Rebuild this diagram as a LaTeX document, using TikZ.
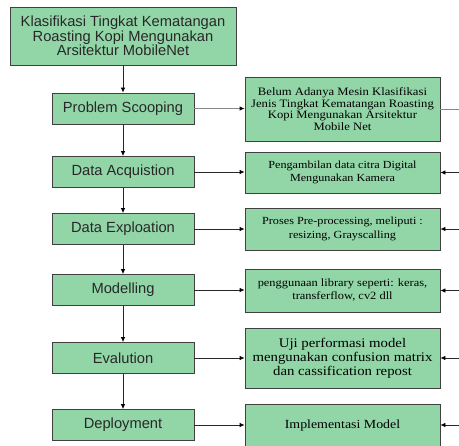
\documentclass[tikz,border=0pt]{standalone}
\usepackage{fontspec}
\setmainfont{Liberation Serif}
\newfontfamily\arialf{Liberation Sans}
\newfontfamily\wideserif[FakeStretch=1.12]{Liberation Serif}
\usetikzlibrary{arrows.meta}
\definecolor{boxgreen}{RGB}{146,214,168}
\definecolor{boxline}{RGB}{64,64,64}
\definecolor{txt}{RGB}{40,40,40}
\definecolor{grayline}{RGB}{135,135,135}
\tikzset{
  gbox/.style={draw=boxline, fill=boxgreen, line width=0.8pt, inner sep=0pt, align=center, text=txt},
  leftbox/.style={gbox, minimum width=142pt, minimum height=31pt, font=\arialf\fontsize{14.7}{15}\selectfont},
  rightbox/.style={gbox, minimum width=195pt, text=black},
  conn/.style={-{Latex[length=5pt,width=4.5pt,color=black]}, line width=0.8pt, draw=txt},
  plainline/.style={line width=0.8pt, draw=grayline}
}
\begin{document}
\begin{tikzpicture}[x=1pt,y=-1pt]
\useasboundingbox (0,0) rectangle (459,446);
\node[gbox, minimum width=226pt, minimum height=58pt, font=\arialf\fontsize{14.7}{14.7}\selectfont] (title) at (123,36) {Klasifikasi Tingkat Kematangan\\Roasting Kopi Mengunakan\\Arsitektur MobileNet};

\node[leftbox] (ps) at (123,108.5) {Problem Scooping};
\node[leftbox] (da) at (123,172) {Data Acquistion};
\node[leftbox] (de) at (123,229) {Data Exploation};
\node[leftbox] (mo) at (123,290) {Modelling};
\node[leftbox] (ev) at (123,358) {Evalution};
\node[leftbox] (dp) at (123,425) {Deployment};

\node[rightbox, minimum height=64pt, font=\wideserif\fontsize{11.3}{11.8}\selectfont] (r1) at (342.5,109) {Belum Adanya Mesin Klasifikasi\\Jenis Tingkat Kematangan Roasting\\Kopi Mengunakan Arsitektur\\Mobile Net};
\node[rightbox, minimum height=41pt, font=\wideserif\fontsize{10.85}{13.3}\selectfont] (r2) at (342.5,172.5) {Pengambilan data citra Digital\\Mengunakan Kamera};
\node[rightbox, minimum height=42pt, font=\wideserif\fontsize{10.9}{13.3}\selectfont] (r3) at (342.5,229) {Proses Pre-processing, meliputi :\\resizing, Grayscalling};
\node[rightbox, minimum height=43pt, font=\wideserif\fontsize{11.1}{13}\selectfont] (r4) at (342.5,290.5) {penggunaan library seperti: keras,\\transferflow, cv2 dll};
\node[rightbox, minimum height=60pt, font=\wideserif\fontsize{13.2}{13.8}\selectfont] (r5) at (342.5,358) {Uji performasi model\\mengunakan confusion matrix\\dan cassification repost};
\node[rightbox, minimum height=43pt, font=\wideserif\fontsize{12.4}{13.5}\selectfont] (r6) at (342.5,425.5) {Implementasi Model};

\draw[conn] (title.south) -- (ps.north);
\draw[conn] (ps.south) -- (da.north);
\draw[conn] (da.south) -- (de.north);
\draw[conn] (de.south) -- (mo.north);
\draw[conn] (mo.south) -- (ev.north);
\draw[conn] (ev.south) -- (dp.north);

\draw[conn, draw=grayline] (ps.east) -- (ps.east -| r1.west);
\draw[conn] (da.east) -- (da.east -| r2.west);
\draw[conn] (de.east) -- (de.east -| r3.west);
\draw[conn] (mo.east) -- (mo.east -| r4.west);
\draw[conn] (ev.east) -- (ev.east -| r5.west);
\draw[conn] (dp.east) -- (dp.east -| r6.west);

\coordinate (e1) at (459,109);
\coordinate (e2) at (459,172.5);
\coordinate (e3) at (459,229);
\coordinate (e4) at (459,290.5);
\coordinate (e5) at (459,358);
\coordinate (e6) at (459,425);
\draw[plainline] (e1) -- (r1.east |- e1);
\draw[conn] (e2) -- (r2.east |- e2);
\draw[conn] (e3) -- (r3.east |- e3);
\draw[conn] (e4) -- (r4.east |- e4);
\draw[conn] (e5) -- (r5.east |- e5);
\draw[conn] (e6) -- (r6.east |- e6);
\end{tikzpicture}
\end{document}
